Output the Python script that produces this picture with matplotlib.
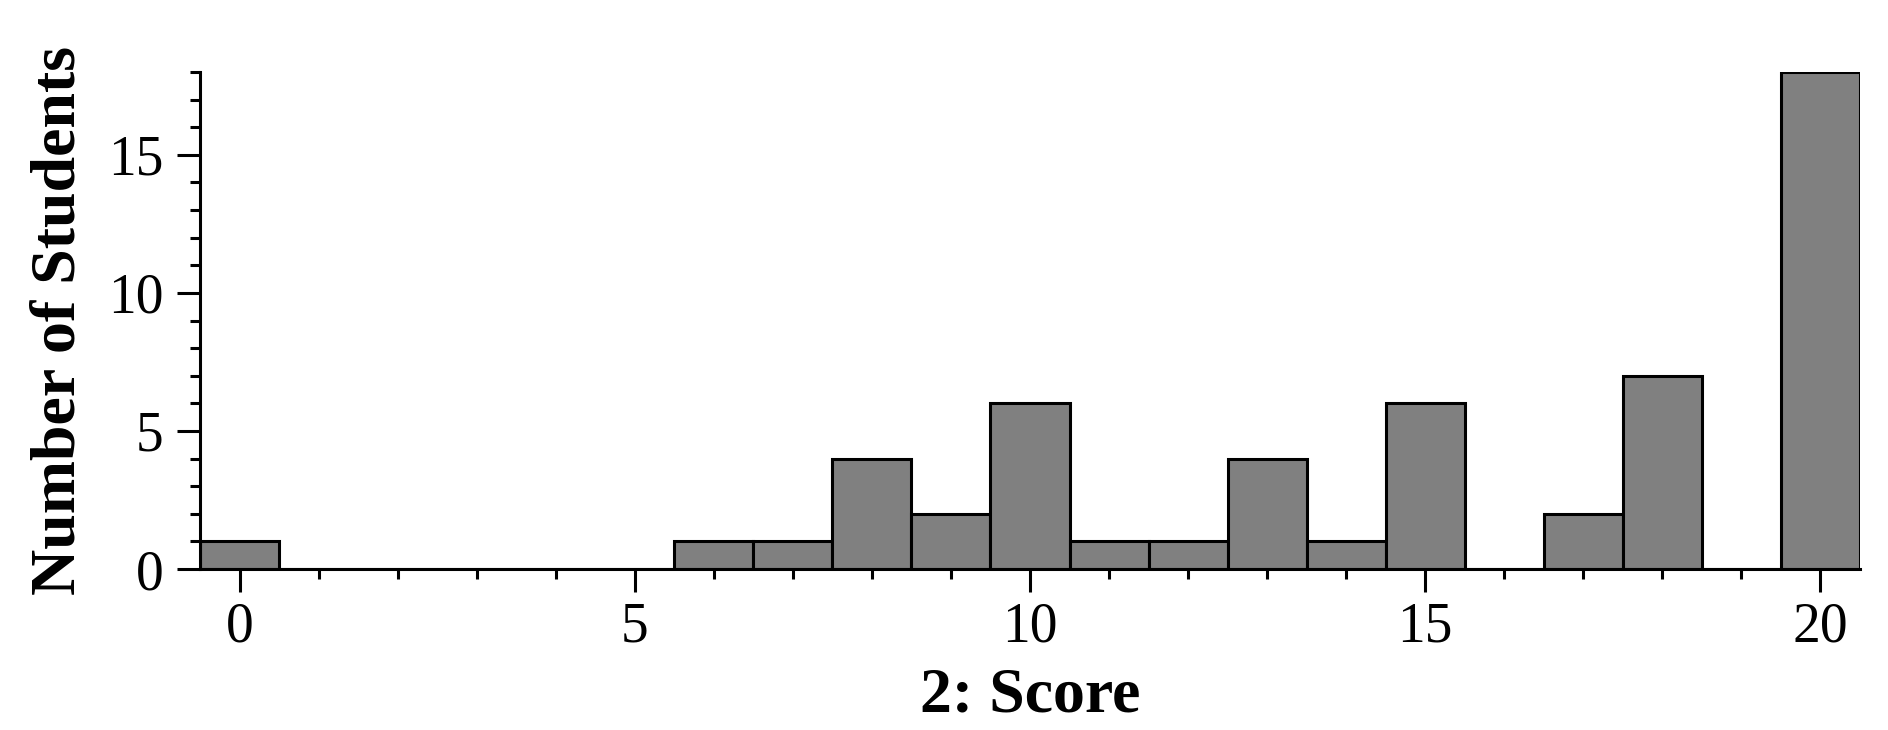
import matplotlib
matplotlib.use("Agg")
import matplotlib.pyplot as plt
from matplotlib.ticker import MultipleLocator

scores = list(range(0, 21))
counts = [1, 0, 0, 0, 0, 0, 1, 1, 4, 2, 6, 1, 1, 4, 1, 6, 0, 2, 7, 0, 18]
xticks = [0, 5, 10, 15, 20]
yticks = [0, 5, 10, 15]

plt.rcParams['font.family'] = ['Liberation Serif', 'DejaVu Serif']

fig = plt.figure(figsize=(18.88, 7.30), dpi=100)
ax = fig.add_axes([200/1888, 1-569/730, (1860-200)/1888, (569-72)/730])

ax.bar(scores, counts, width=1.0, color='#808080', edgecolor='black',
       linewidth=2.2, align='center', zorder=2)

ax.set_xlim(-0.5, 20.5)
ax.set_ylim(0, 18)
ax.set_xticks(xticks)
ax.set_yticks(yticks)
ax.xaxis.set_minor_locator(MultipleLocator(1))
ax.yaxis.set_minor_locator(MultipleLocator(1))

for s in ['top', 'right']:
    ax.spines[s].set_visible(False)
for s in ['left', 'bottom']:
    ax.spines[s].set_linewidth(2.2)
    ax.spines[s].set_zorder(3)

ax.tick_params(which='major', direction='out', length=16.5, width=2.2,
               labelsize=40)
ax.tick_params(axis='x', which='major', pad=7)
ax.tick_params(axis='y', which='major', pad=10)
ax.tick_params(which='minor', direction='out', length=7.5, width=2.2)

ax.set_xlabel('2: Score', fontsize=46, fontweight='bold', labelpad=10)
ax.set_ylabel('Number of Students', fontsize=46, fontweight='bold', labelpad=14)

fig.savefig('out.png', dpi=100, facecolor='white')
